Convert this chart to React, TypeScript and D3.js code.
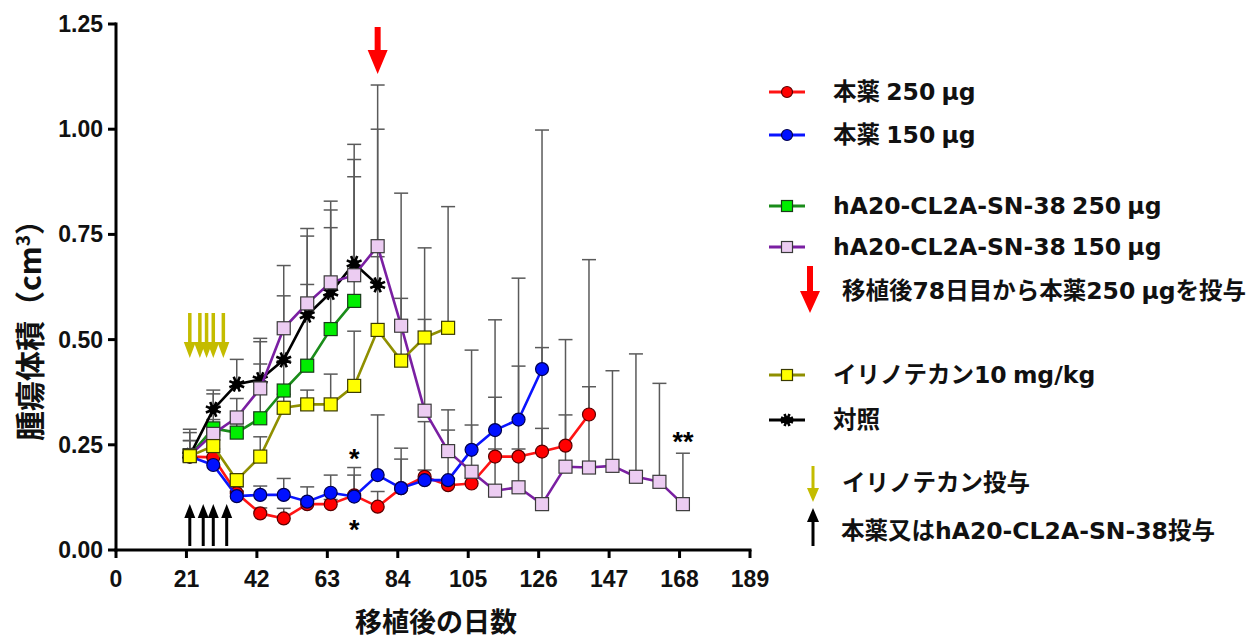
import React from 'react';
import * as d3 from 'd3';

// Sampling days after transplantation (weekly from day 22)
const studyDays = [22, 29, 36, 43, 50, 57, 64, 71, 78, 85, 92, 99, 106, 113, 120, 127, 134, 141, 148, 155, 162, 169];

// Mean tumour volume (cm3) and upper SEM per group
const drug250Mean = [0.222, 0.22, 0.135, 0.087, 0.075, 0.109, 0.109, 0.13, 0.103, 0.147, 0.174, 0.154, 0.158, 0.222, 0.222, 0.234, 0.248, 0.322];
const drug250Sem = [0.018, 0.02, 0.015, 0.013, 0.024, 0.011, 0.011, 0.048, 0.036, 0.069, 0.016, 0.016, 0.012, 0.018, 0.018, 0.055, 0.073, 0.066];

const drug150Mean = [0.222, 0.202, 0.128, 0.131, 0.131, 0.115, 0.136, 0.127, 0.178, 0.147, 0.166, 0.166, 0.238, 0.285, 0.31, 0.43];
const drug150Sem = [0.008, 0.018, 0.012, 0.021, 0.039, 0.035, 0.042, 0.069, 0.143, 0.095, 0.139, 0.119, 0.059, 0.078, 0.127, 0.051];

const adc250Mean = [0.225, 0.289, 0.279, 0.313, 0.379, 0.438, 0.525, 0.592];
const adc250Sem = [0.035, 0.021, 0.021, 0.129, 0.071, 0.193, 0.241, 0.295];

const adc150Mean = [0.225, 0.276, 0.315, 0.384, 0.527, 0.586, 0.636, 0.653, 0.722, 0.533, 0.331, 0.235, 0.186, 0.141, 0.149, 0.109, 0.198, 0.196, 0.2, 0.174, 0.162, 0.109];
const adc150Sem = [0.054, 0.095, 0.045, 0.111, 0.149, 0.178, 0.193, 0.311, 0.383, 0.315, 0.387, 0.098, 0.289, 0.406, 0.497, 0.889, 0.302, 0.494, 0.226, 0.292, 0.234, 0.121];

const irinotecanMean = [0.223, 0.247, 0.166, 0.222, 0.338, 0.346, 0.346, 0.39, 0.523, 0.45, 0.505, 0.528];
const irinotecanSem = [0.037, 0.023, 0.014, 0.047, 0.032, 0.034, 0.072, 0.13, 0.174, 0.148, 0.043, 0.288];

const controlMean = [0.225, 0.334, 0.394, 0.405, 0.452, 0.558, 0.612, 0.681, 0.63];
const controlSem = [0.062, 0.046, 0.059, 0.098, 0.152, 0.188, 0.196, 0.247, 0.37];

// Dosing schedule
const irinotecanDoseDays = [22, 25, 27, 29, 32];
const conjugateDoseDays = [22, 26, 29, 33];
const switchDay = 78;

// Significance marks: [day, volume level, label]
const significanceMarks: [number, number, string][] = [
  [71, 0.23, '*'],
  [71, 0.062, '*'],
  [169, 0.272, '**'],
];

const xTicks = [0, 21, 42, 63, 84, 105, 126, 147, 168, 189];
const yTicks = [0, 0.25, 0.5, 0.75, 1.0, 1.25];

const W = 1247;
const H = 641;
const x = d3.scaleLinear().domain([0, 189]).range([116, 750]);
const y = d3.scaleLinear().domain([0, 1.25]).range([550, 24]);

type Marker = 'circle' | 'square' | 'star';
interface Series {
  label: string;
  mean: number[];
  sem: number[];
  line: string;
  fill: string;
  stroke: string;
  marker: Marker;
}

const drug250: Series = { label: '本薬 250 µg', mean: drug250Mean, sem: drug250Sem, line: '#ff1414', fill: '#ff0000', stroke: '#5a0000', marker: 'circle' };
const drug150: Series = { label: '本薬 150 µg', mean: drug150Mean, sem: drug150Sem, line: '#0a14ff', fill: '#0010ff', stroke: '#000050', marker: 'circle' };
const adc250: Series = { label: 'hA20-CL2A-SN-38 250 µg', mean: adc250Mean, sem: adc250Sem, line: '#1a8c1a', fill: '#00ee00', stroke: '#1a3a1a', marker: 'square' };
const adc150: Series = { label: 'hA20-CL2A-SN-38 150 µg', mean: adc150Mean, sem: adc150Sem, line: '#7a1fa2', fill: '#ecccf2', stroke: '#3a3a3a', marker: 'square' };
const irinotecan: Series = { label: 'イリノテカン10 mg/kg', mean: irinotecanMean, sem: irinotecanSem, line: '#8f8f00', fill: '#ffff00', stroke: '#3a3a00', marker: 'square' };
const control: Series = { label: '対照', mean: controlMean, sem: controlSem, line: '#000000', fill: '#000000', stroke: '#000000', marker: 'star' };

// bottom-to-top drawing order
const drawOrder = [drug250, drug150, adc250, control, adc150, irinotecan];

const tickFont = "'Liberation Sans', Arial, sans-serif";
const jpFont = "'Noto Sans CJK JP', 'Noto Sans', sans-serif";
const legendFont = "'DejaVu Sans', 'Noto Sans CJK JP', sans-serif";

function MarkerShape({ s, cx, cy, size }: { s: Series; cx: number; cy: number; size: number }) {
  if (s.marker === 'circle') {
    return <circle cx={cx} cy={cy} r={size / 2} fill={s.fill} stroke={s.stroke} strokeWidth={1.2} />;
  }
  if (s.marker === 'square') {
    return <rect x={cx - size / 2} y={cy - size / 2} width={size} height={size} fill={s.fill} stroke={s.stroke} strokeWidth={1.2} />;
  }
  const r = size / 2 + 0.5;
  const spokes = d3.range(8).map((i) => {
    const a = (i * Math.PI) / 4 + Math.PI / 8;
    return `M${cx},${cy}L${cx + r * Math.cos(a)},${cy + r * Math.sin(a)}`;
  });
  return (
    <g>
      <path d={spokes.join('')} stroke="#000" strokeWidth={2.6} />
      <circle cx={cx} cy={cy} r={size * 0.3} fill="#000" />
    </g>
  );
}

function Arrow({ cx, tail, tip, shaft, head, headLen, color }: { cx: number; tail: number; tip: number; shaft: number; head: number; headLen: number; color: string }) {
  const dir = tip > tail ? 1 : -1;
  const base = tip - dir * headLen;
  const d = [
    `M${cx - shaft / 2},${tail}`,
    `L${cx + shaft / 2},${tail}`,
    `L${cx + shaft / 2},${base}`,
    `L${cx + head / 2},${base}`,
    `L${cx},${tip}`,
    `L${cx - head / 2},${base}`,
    `L${cx - shaft / 2},${base}`,
    'Z',
  ].join('');
  return <path d={d} fill={color} />;
}

export default function App() {
  const line = d3
    .line<number>()
    .x((_, i) => x(studyDays[i]))
    .y((v) => y(v));

  const legendRows: { s: Series; cy: number }[] = [
    { s: drug250, cy: 92 },
    { s: drug150, cy: 135 },
    { s: adc250, cy: 206 },
    { s: adc150, cy: 247 },
    { s: irinotecan, cy: 375 },
    { s: control, cy: 420 },
  ];

  return (
    <svg width={W} height={H} style={{ position: 'absolute', left: 0, top: 0, background: '#fff' }}>
      <rect width={W} height={H} fill="#fff" />

      {/* error bars (upper SEM) */}
      <g stroke="#5a5a5a" strokeWidth={1.5} fill="none">
        {drawOrder.map((s) =>
          s.mean.map((m, i) => {
            const cx = x(studyDays[i]);
            const top = y(m + s.sem[i]);
            return (
              <g key={s.label + i}>
                <line x1={cx} x2={cx} y1={y(m)} y2={top} />
                <line x1={cx - 7} x2={cx + 7} y1={top} y2={top} />
              </g>
            );
          })
        )}
      </g>

      {/* series lines and markers */}
      {drawOrder.map((s) => (
        <g key={s.label}>
          <path d={line(s.mean) ?? ''} fill="none" stroke={s.line} strokeWidth={2.6} strokeLinejoin="round" />
          {s.mean.map((m, i) => (
            <MarkerShape key={i} s={s} cx={x(studyDays[i])} cy={y(m)} size={s.marker === 'star' ? 15 : 13} />
          ))}
        </g>
      ))}

      {/* dosing arrows */}
      {irinotecanDoseDays.map((d) => (
        <Arrow key={'i' + d} cx={x(d)} tail={313} tip={358} shaft={3.5} head={12} headLen={16} color="#c4bc00" />
      ))}
      {conjugateDoseDays.map((d) => (
        <Arrow key={'c' + d} cx={x(d)} tail={546} tip={504} shaft={3} head={11} headLen={14} color="#000" />
      ))}
      <Arrow cx={x(switchDay)} tail={27} tip={74} shaft={6} head={20} headLen={24} color="#ff0000" />

      {/* significance marks */}
      {significanceMarks.map(([d, v, t], i) => (
        <text key={i} x={x(d)} y={y(v) + 15} textAnchor="middle" fontFamily={tickFont} fontWeight="bold" fontSize={27} fill="#000">
          {t}
        </text>
      ))}

      {/* axes */}
      <g stroke="#000" strokeWidth={3} fill="none">
        <line x1={x(0)} x2={x(0)} y1={y(1.25) - 1.5} y2={y(0) + 1.5} />
        <line x1={x(0) - 1.5} x2={x(189) + 1.5} y1={y(0)} y2={y(0)} />
        {yTicks.map((t) => (
          <line key={'yt' + t} x1={x(0) - 8} x2={x(0)} y1={y(t)} y2={y(t)} />
        ))}
        {xTicks.map((t) => (
          <line key={'xt' + t} x1={x(t)} x2={x(t)} y1={y(0)} y2={y(0) + 8} />
        ))}
      </g>
      <g fontFamily={tickFont} fontWeight="bold" fontSize={23} fill="#111">
        {yTicks.map((t) => (
          <text key={'yl' + t} x={x(0) - 13} y={y(t)} dy="0.35em" textAnchor="end">
            {d3.format('.2f')(t)}
          </text>
        ))}
        {xTicks.map((t) => (
          <text key={'xl' + t} x={x(t)} y={587} textAnchor="middle">
            {t}
          </text>
        ))}
      </g>
      <text x={436} y={632} textAnchor="middle" fontFamily={jpFont} fontWeight="bold" fontSize={27} fill="#111">
        移植後の日数
      </text>
      <text transform="translate(41,323) rotate(-90)" textAnchor="middle" fontFamily={jpFont} fontWeight="bold" fontSize={30} fill="#111">
        腫瘍体積（cm<tspan dy="-11" fontSize={19}>3</tspan><tspan dy="11">）</tspan>
      </text>

      {/* legend */}
      <g fontFamily={legendFont} fontWeight="bold" fontSize={23.5} fill="#111" wordSpacing={-2}>
        {legendRows.map(({ s, cy }) => (
          <g key={'lg' + s.label}>
            <line x1={769} x2={805} y1={cy} y2={cy} stroke={s.line} strokeWidth={3} />
            <MarkerShape s={s} cx={787} cy={cy} size={s.marker === 'star' ? 12 : 11} />
            <text x={833} y={cy} dominantBaseline="central">
              {s.label}
            </text>
          </g>
        ))}
        <Arrow cx={810} tail={266} tip={313} shaft={6} head={20} headLen={22} color="#ff0000" />
        <text x={842} y={291} dominantBaseline="central">移植後78日目から本薬250 µgを投与</text>
        <Arrow cx={813} tail={466} tip={502} shaft={3} head={12} headLen={14} color="#c4bc00" />
        <text x={842} y={483} dominantBaseline="central">イリノテカン投与</text>
        <Arrow cx={813} tail={546} tip={508} shaft={3} head={12} headLen={14} color="#000" />
        <text x={841} y={531} dominantBaseline="central">本薬又はhA20-CL2A-SN-38投与</text>
      </g>
    </svg>
  );
}
